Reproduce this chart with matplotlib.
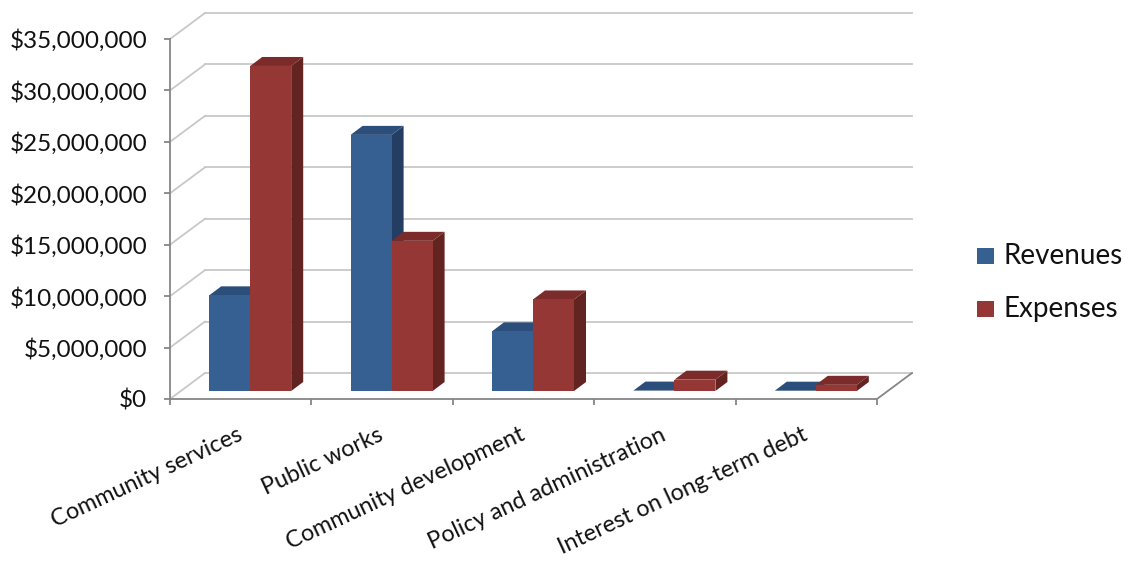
import matplotlib.pyplot as plt
from matplotlib.patches import Polygon, Rectangle
from matplotlib.ticker import FuncFormatter, MultipleLocator

plt.rcParams['font.family'] = ['Lato', 'DejaVu Sans']

categories = ["Community services", "Public works", "Community development",
              "Policy and administration", "Interest on long-term debt"]
revenues = [9_300_000, 24_900_000, 5_800_000, 40_000, 30_000]
expenses = [31_600_000, 14_600_000, 8_900_000, 1_100_000, 600_000]
series_names = ["Revenues", "Expenses"]

# front / top / side shades per series
shades = {
    "Revenues": ("#376092", "#2c4e7a", "#233e62"),
    "Expenses": ("#953735", "#7b2c2a", "#632321"),
}
grid_color = "#c8c8c8"
axis_color = "#868686"

W, H, DPI = 1132, 563, 100
fig = plt.figure(figsize=(W / DPI, H / DPI), dpi=DPI)

# axes sits on the front plane of the box (pixel box)
x0, x1, y0, y1 = 170, 877, 399, 39
ax = fig.add_axes([x0 / W, 1 - y0 / H, (x1 - x0) / W, (y0 - y1) / H])
ymax = 35_000_000
ncat = len(categories)
ax.set_xlim(0, ncat)
ax.set_ylim(0, ymax)

ppx = (x1 - x0) / ncat
ppy = (y0 - y1) / ymax


def off(dx_px, dy_px):
    return dx_px / ppx, dy_px / ppy


depth = off(35, 26)        # floor / wall depth
bar_shift = off(9.5, 8)    # where the bar row sits inside the box
bar_depth = off(12, 9)
bar_w = 41 / ppx

# side wall diagonals and back wall gridlines
for v in range(0, ymax + 1, 5_000_000):
    ax.plot([0, depth[0]], [v, v + depth[1]], color=grid_color, lw=1.3,
            clip_on=False, zorder=1)
    ax.plot([depth[0], ncat + depth[0]], [v + depth[1], v + depth[1]],
            color=grid_color, lw=1.3, clip_on=False, zorder=1)

# right edge of the floor
ax.plot([ncat, ncat + depth[0]], [0, depth[1]], color=axis_color, lw=1.3,
        clip_on=False, zorder=2)


def draw_bar(left, value, colors):
    front, top, side = colors
    b = bar_shift[1]
    t = b + value
    dx, dy = bar_depth
    r = left + bar_w
    ax.add_patch(Polygon([(r, b), (r + dx, b + dy), (r + dx, t + dy), (r, t)],
                         closed=True, fc=side, ec="none", clip_on=False, zorder=3))
    ax.add_patch(Polygon([(left, t), (r, t), (r + dx, t + dy), (left + dx, t + dy)],
                         closed=True, fc=top, ec="none", clip_on=False, zorder=3))
    ax.add_patch(Rectangle((left, b), bar_w, value, fc=front, ec="none",
                           clip_on=False, zorder=3))


for i in range(ncat):
    c = i + 0.5 + bar_shift[0]
    draw_bar(c - bar_w, revenues[i], shades["Revenues"])
    draw_bar(c, expenses[i], shades["Expenses"])

# axes styling
for s in ("top", "right"):
    ax.spines[s].set_visible(False)
for s in ("left", "bottom"):
    ax.spines[s].set_color(axis_color)
    ax.spines[s].set_linewidth(1.3)
    ax.spines[s].set_zorder(4)

ax.yaxis.set_major_locator(MultipleLocator(5_000_000))
ax.yaxis.set_major_formatter(FuncFormatter(lambda v, p: f"${v:,.0f}"))
ax.tick_params(axis="y", length=4.3, width=1.3, color=axis_color, pad=12,
               labelsize=17.5, labelcolor="#111111")
ax.set_xticks(range(ncat + 1))
ax.set_xticklabels([])
ax.tick_params(axis="x", length=4.3, width=1.3, color=axis_color)

for i, name in enumerate(categories):
    ax.annotate(name, xy=(i + 0.5, 0), xytext=(0, -25), textcoords="offset points",
                rotation=25, rotation_mode="anchor", ha="right", va="center",
                fontsize=16.8, color="#111111", annotation_clip=False)

# legend
for k, name in enumerate(series_names):
    yc = 256 + 53 * k
    fig.patches.append(Rectangle((977 / W, 1 - (yc + 8) / H), 17 / W, 16 / H,
                                 transform=fig.transFigure, fc=shades[name][0],
                                 ec="none"))
    fig.text(1003 / W, 1 - yc / H, name, ha="left", va="center", fontsize=20,
             color="#111111")

fig.savefig("out.png", dpi=DPI)
